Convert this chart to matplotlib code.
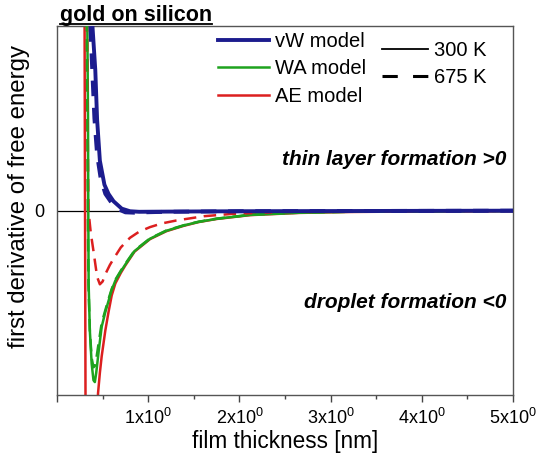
import matplotlib
matplotlib.use("Agg")
import matplotlib.pyplot as plt
from matplotlib.lines import Line2D
import numpy as np

plt.rcParams['font.family'] = ['Liberation Sans', 'DejaVu Sans']
plt.rcParams['mathtext.fontset'] = 'custom'
plt.rcParams['mathtext.rm'] = 'Liberation Sans'
plt.rcParams['mathtext.bf'] = 'Liberation Sans:bold'
plt.rcParams['mathtext.it'] = 'Liberation Sans:italic'

# ---- data ----
vw300_x = [0.37, 0.39, 0.42, 0.44, 0.47, 0.52, 0.565, 0.62, 0.71, 0.80, 0.90, 1.2, 2.0, 3.0, 4.0, 5.0]
vw300_y = [1.3, 0.99, 0.76, 0.49, 0.27, 0.14, 0.09, 0.05, 0.01, -0.004, -0.007, -0.006, -0.004, -0.003, -0.002, -0.001]

vw675_x = [0.35, 0.37, 0.39, 0.41, 0.44, 0.48, 0.53, 0.60, 0.68, 0.75, 0.85, 0.95, 1.2, 2.0, 3.0, 4.0, 5.0]
vw675_y = [1.3, 0.95, 0.72, 0.50, 0.30, 0.17, 0.09, 0.04, 0.005, -0.01, -0.012, -0.01, -0.007, -0.004, -0.003, -0.002, -0.001]

wa300_x = [0.325, 0.34, 0.343, 0.347, 0.36, 0.38, 0.40, 0.415, 0.43, 0.46, 0.49, 0.53, 0.565, 0.60, 0.64, 0.70, 0.75, 0.85,
           1.02, 1.2, 1.39, 1.55, 1.75, 2.12, 2.66, 3.2, 4.0, 5.0]
wa300_y = [1.5, 0.5, 0.0, -0.4, -0.65, -0.83, -0.92, -0.93, -0.88, -0.75, -0.63, -0.55, -0.49, -0.43, -0.38, -0.33, -0.292, -0.22,
           -0.153, -0.11, -0.081, -0.062, -0.045, -0.024, -0.012, -0.007, -0.004, -0.002]

wa675_x = [0.32, 0.333, 0.338, 0.345, 0.36, 0.38, 0.40, 0.42, 0.45, 0.49, 0.53, 0.565, 0.60, 0.64, 0.70, 0.75, 0.85,
           1.02, 1.2, 1.39, 1.55, 1.75, 2.12, 2.66, 3.2, 4.0, 5.0]
wa675_y = [1.5, 0.5, 0.0, -0.4, -0.65, -0.80, -0.85, -0.84, -0.74, -0.61, -0.54, -0.48, -0.425, -0.375, -0.326, -0.288, -0.217,
           -0.151, -0.108, -0.08, -0.061, -0.044, -0.023, -0.011, -0.007, -0.004, -0.002]

ae300_x = [0.30, 0.315, 0.38, 0.44, 0.45, 0.47, 0.49, 0.53, 0.565, 0.60, 0.64, 0.70, 0.75, 0.85,
           1.02, 1.2, 1.39, 1.55, 1.75, 2.12, 2.66, 3.2, 4.0, 5.0]
ae300_y = [1.5, -1.5, -2.5, -1.1, -0.99, -0.88, -0.79, -0.65, -0.55, -0.46, -0.395, -0.338, -0.297, -0.223,
           -0.155, -0.112, -0.083, -0.063, -0.046, -0.025, -0.013, -0.008, -0.005, -0.003]

ae675_x = [0.325, 0.335, 0.345, 0.37, 0.40, 0.44, 0.47, 0.50, 0.53, 0.58, 0.62, 0.70, 0.80, 0.90,
           1.02, 1.15, 1.31, 1.61, 1.93, 2.48, 3.0, 4.0, 5.0]
ae675_y = [1.5, 0.5, 0.0, -0.12, -0.22, -0.36, -0.40, -0.385, -0.345, -0.295, -0.262, -0.20, -0.148, -0.115,
           -0.09, -0.07, -0.054, -0.031, -0.018, -0.008, -0.005, -0.003, -0.002]

x_ticks = [0, 1, 2, 3, 4, 5]
x_tick_labels = ['', r'1x10$^{0}$', r'2x10$^{0}$', r'3x10$^{0}$', r'4x10$^{0}$', r'5x10$^{0}$']

model_labels = ['vW model', 'WA model', 'AE model']
temp_labels = ['300 K', '675 K']

navy = '#1c1c8e'
green = '#1ea31e'
red = '#dc1f1f'

fig = plt.figure(figsize=(5.38, 4.68), dpi=100)
ax = fig.add_axes([57/538, 1 - 395/468, (513 - 57)/538, (395 - 26)/468])

ax.axhline(0, color='black', lw=0.9, zorder=1)

ax.plot(ae300_x, ae300_y, color=red, lw=1.8, zorder=2)
ax.plot(wa300_x, wa300_y, color=green, lw=1.8, zorder=3)
ax.plot(ae675_x, ae675_y, color=red, lw=1.8, dashes=(5, 3), zorder=4)
ax.plot(wa675_x, wa675_y, color=green, lw=1.8, dashes=(5, 3), zorder=5)
ax.plot(vw300_x, vw300_y, color=navy, lw=2.8, zorder=6)
ax.plot(vw675_x, vw675_y, color=navy, lw=2.8, dashes=(4, 3), zorder=6)

ax.set_xlim(0, 5)
ax.set_ylim(-1, 1)
ax.set_xticks(x_ticks)
ax.set_xticklabels(x_tick_labels, fontsize=13)
ax.set_xticks(np.arange(0.5, 5, 1.0), minor=True)
ax.tick_params(axis='x', which='major', direction='out', length=5, width=1, color='#444444', pad=4)
ax.tick_params(axis='x', which='minor', direction='out', length=3, width=1, color='#444444')
ax.set_yticks([0])
ax.set_yticklabels(['0'], fontsize=13)
ax.tick_params(axis='y', length=0, pad=9)

for s in ax.spines.values():
    s.set_color('#555555')
    s.set_linewidth(1.0)

ax.set_xlabel('film thickness [nm]', fontsize=16.3, labelpad=2)
ax.set_ylabel('first derivative of free energy', fontsize=17.3, va='center')
ax.yaxis.set_label_coords((19 - 57) / 456, (395 - 196.5) / 369)

ax.text(0.985, 0.637, 'thin layer formation >0', transform=ax.transAxes, ha='right', va='center',
        fontsize=15, fontweight='bold', fontstyle='italic')
ax.text(0.985, 0.25, 'droplet formation <0', transform=ax.transAxes, ha='right', va='center',
        fontsize=15, fontweight='bold', fontstyle='italic')

title = fig.text(60/538, 1 - 21/468, 'gold on silicon', ha='left', va='baseline',
                 fontsize=15.5, fontweight='bold')

h1 = [Line2D([], [], color=navy, lw=2.8), Line2D([], [], color=green, lw=1.8), Line2D([], [], color=red, lw=1.8)]
leg1 = ax.legend(h1, model_labels, loc='upper left', bbox_to_anchor=(0.336, 1.006), frameon=False,
                 fontsize=14.5, handlelength=2.5, handletextpad=0.3, labelspacing=0.42, borderaxespad=0)
ax.add_artist(leg1)
h2 = [Line2D([], [], color='black', lw=1.3), Line2D([], [], color='black', lw=2.2, dashes=(5, 5))]
leg2 = ax.legend(h2, temp_labels, loc='upper left', bbox_to_anchor=(0.695, 0.982), frameon=False,
                 fontsize=14.5, handlelength=2.3, handletextpad=0.3, labelspacing=0.4, borderaxespad=0)

# underline for the title
fig.canvas.draw()
bb = title.get_window_extent(renderer=fig.canvas.get_renderer())
inv = fig.transFigure.inverted()
(x0, _), (x1, _) = inv.transform([(bb.x0, 0), (bb.x1, 0)])
yline = 1 - 24/468
fig.add_artist(Line2D([x0, x1], [yline, yline], transform=fig.transFigure, color='black', lw=1.3))

fig.savefig('out.png', dpi=100)
